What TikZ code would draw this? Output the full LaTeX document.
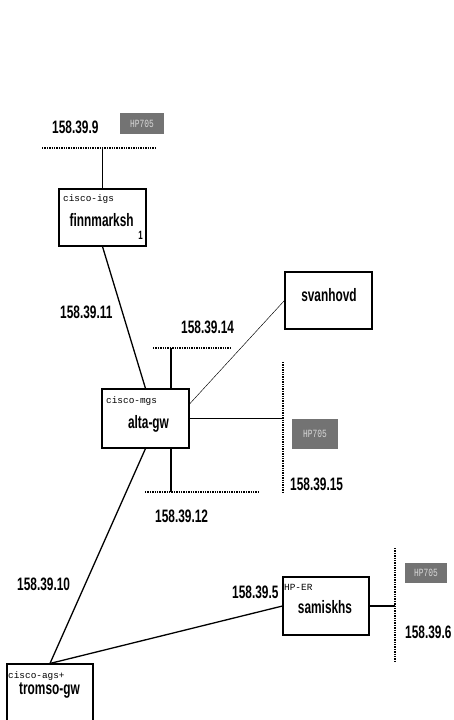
\documentclass[tikz,border=0pt]{standalone}
\usepackage{fontspec}
\newfontfamily\labfont{Liberation Sans}[FakeStretch=0.66]
\newfontfamily\typefont{Liberation Mono}
\newfontfamily\hpfont{Liberation Mono}[FakeStretch=0.72]
\tikzset{
  router/.style={draw, line width=1.1pt, minimum width=87pt, minimum height=58pt, inner sep=0pt},
  devtype/.style={anchor=base west, inner sep=0pt, font=\typefont\fontsize{9.4}{9.4}\selectfont},
  hostname/.style={anchor=base, inner sep=0pt, font=\labfont\bfseries\fontsize{18}{18}\selectfont},
  netaddr/.style={anchor=base west, inner sep=0pt, font=\labfont\bfseries\fontsize{18}{18}\selectfont},
  hpbox/.style={fill=black!55, text=white!85!black, inner sep=0pt, font=\hpfont\fontsize{11}{11}\selectfont},
  segment/.style={line width=2.2pt, dash pattern=on 1.3pt off 1.1pt},
  link/.style={line width=1.3pt},
  thinlink/.style={line width=0.45pt}
}
\begin{document}
\begin{tikzpicture}[x=1pt,y=-1pt]
\useasboundingbox (0,0) rectangle (453,720);

% network segments
\coordinate (s9a) at (42,148);   \coordinate (s9b) at (155,148);
\coordinate (s14a) at (153,348); \coordinate (s14b) at (232,348);
\coordinate (s12a) at (145,492); \coordinate (s12b) at (258,492);
\coordinate (s15a) at (283,362); \coordinate (s15b) at (283,493);
\coordinate (s6a) at (395,548);  \coordinate (s6b) at (395,663);
\draw[segment] (s9a) -- (s9b);
\draw[segment] (s14a) -- (s14b);
\draw[segment] (s12a) -- (s12b);
\draw[segment] (s15a) -- (s15b);
\draw[segment] (s6a) -- (s6b);

% routers and hosts
\node[router, minimum width=87pt, minimum height=57pt] (finn) at (102.5,217.5) {};
\node[router, minimum width=87pt, minimum height=59pt] (alta) at (145.5,418.5) {};
\node[router, minimum width=87pt, minimum height=57pt] (svan) at (328.5,300.5) {};
\node[router, minimum width=86pt, minimum height=58pt] (sami) at (326,606) {};
\node[router, minimum width=86pt, minimum height=70pt] (troms) at (50,699) {};

% device types
\node[devtype] (tfinn) at (63,201) {cisco-igs};
\node[devtype] (talta) at (106,403) {cisco-mgs};
\node[devtype] (tsami) at (284,590) {HP-ER};
\node[devtype] (ttroms) at (8,678) {cisco-ags+};

% host names
\node[hostname] (nfinn) at (101.7,226) {finnmarksh};
\node[hostname, font=\labfont\bfseries\fontsize{12}{12}\selectfont] (nfinn1) at (140.5,239) {1};
\node[hostname] (nalta) at (148.5,428) {alta-gw};
\node[hostname] (nsvan) at (329,301) {svanhovd};
\node[hostname] (nsami) at (325,613) {samiskhs};
\node[hostname] (ntroms) at (49.5,694) {tromso-gw};

% network numbers
\node[netaddr] (a9) at (52,133) {158.39.9};
\node[netaddr] (a11) at (60,318) {158.39.11};
\node[netaddr] (a14) at (181,333) {158.39.14};
\node[netaddr] (a12) at (155,522) {158.39.12};
\node[netaddr] (a15) at (290,490) {158.39.15};
\node[netaddr] (a10) at (17,590) {158.39.10};
\node[netaddr] (a5) at (232,598) {158.39.5};
\node[netaddr] (a6) at (405,638) {158.39.6};

% HP705 workstations
\node[hpbox, minimum width=44pt, minimum height=21pt] (hp1) at (142,123.5) {HP705};
\node[hpbox, minimum width=46pt, minimum height=30pt] (hp2) at (315,434) {HP705};
\node[hpbox, minimum width=42pt, minimum height=20pt] (hp3) at (426,573) {HP705};

% links
\draw[link] (finn.north) -- (finn.north |- s9a);
\draw[link] (finn.south) -- (alta.north);
\coordinate (altatop) at (171,389);
\coordinate (altabot) at (171,448);
\draw[link] (altatop) -- (altatop |- s14a);
\draw[link] (altabot) -- (altabot |- s12a);
\draw[link] (alta.east) -- (alta.east -| s15a);
\draw[thinlink] ([yshift=14.5pt]alta.east) -- (svan.west);
\draw[link] (alta.south) -- (troms.north);
\draw[link] (troms.north) -- (sami.west);
\draw[link] (sami.east) -- (sami.east -| s6a);
\end{tikzpicture}
\end{document}
